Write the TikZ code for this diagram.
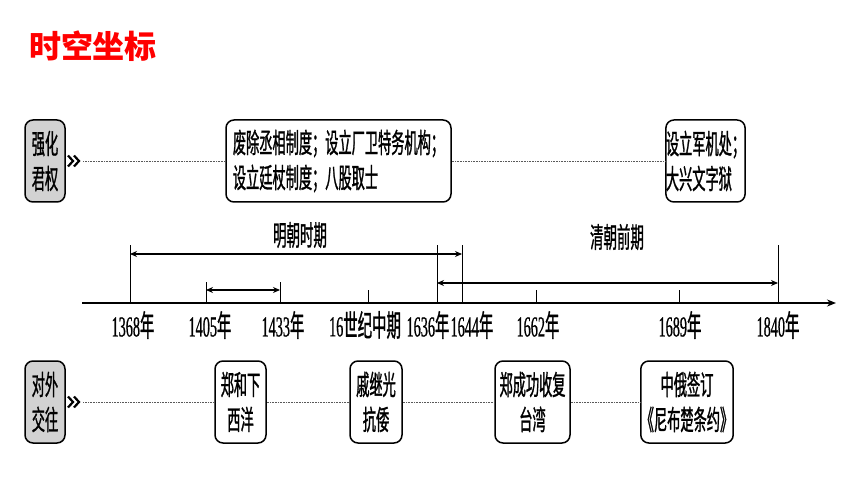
\documentclass[tikz,border=0pt]{standalone}
\usepackage{fontspec}
\usetikzlibrary{arrows.meta,calc}
\newfontfamily\cjkf[FakeStretch=0.48, FakeBold=1.0]{Noto Sans CJK SC}
\newfontfamily\titlef{Noto Sans CJK SC}
\newfontfamily\numf[FakeStretch=0.49, FakeBold=0.6]{Liberation Serif}
\newcommand\yr[1]{{\numf\fontsize{29}{29}\selectfont #1}}
\tikzset{
  box/.style={draw, line width=1.5pt, rounded corners=8pt, minimum height=82pt,
    inner xsep=0pt, inner ysep=0pt, font=\cjkf\fontsize{27.5}{35}\selectfont, align=center},
  side/.style={box, fill=gray!35, minimum width=40pt},
  chev/.style={minimum width=12pt, minimum height=11pt, inner sep=0pt},
  chevl/.style={line width=2.2pt, line join=miter},
  dotl/.style={line width=0.8pt, dash pattern=on 0.8pt off 0.8pt, gray!70!black},
  axisl/.style={line width=1.6pt, -{Stealth[length=9pt,width=7pt]}},
  tickl/.style={line width=0.8pt},
  dbl/.style={line width=1.4pt, {Stealth[length=7pt,width=6pt]}-{Stealth[length=7pt,width=6pt]}},
  yearlab/.style={font=\cjkf\fontsize{30}{30}\selectfont, inner sep=0pt},
  perlab/.style={font=\cjkf\fontsize{28}{28}\selectfont, inner sep=0pt}
}
\begin{document}
\begin{tikzpicture}[x=1pt,y=-1pt]
\useasboundingbox[fill=white] (0,0) rectangle (860,484);
% title
\node[text=red, font=\titlef\bfseries\fontsize{32}{32}\selectfont] (title) at (93,46) {时空坐标};
% top row
\node[side] (qj) at (45,161) {强化\\君权};
\node[chev] (c1) at (74,161) {};
\node[box, minimum width=225pt, align=left] (b1) at (338.5,161) {废除丞相制度；设立厂卫特务机构；\\设立廷杖制度；八股取士};
\node[box, minimum width=79pt, align=left] (b2) at (705.5,161) {设立军机处；\\大兴文字狱};
% bottom row
\node[side] (dw) at (45,402) {对外\\交往};
\node[chev] (c2) at (74,402) {};
\node[box, minimum width=51pt] (z1) at (240.5,402) {郑和下\\西洋};
\node[box, minimum width=52pt] (z2) at (376,402) {戚继光\\抗倭};
\node[box, minimum width=75pt] (z3) at (532.5,402) {郑成功收复\\台湾};
\node[box, minimum width=92pt] (z4) at (687,402) {中俄签订\\《尼布楚条约》};
% chevrons
\foreach \c in {c1,c2}{
  \draw[chevl] ([xshift=-6pt,yshift=5.5pt]\c.center) -- ([xshift=-1pt]\c.center) -- ([xshift=-6pt,yshift=-5.5pt]\c.center);
  \draw[chevl] ([xshift=0pt,yshift=5.5pt]\c.center) -- ([xshift=5pt]\c.center) -- ([xshift=0pt,yshift=-5.5pt]\c.center);
}
% dotted connectors
\draw[dotl, shorten <=3pt] (c1.east) -- (b1.west);
\draw[dotl] (b1.east) -- (b2.west);
\draw[dotl, shorten <=3pt] (c2.east) -- (z1.west);
\draw[dotl] (z1.east) -- (z2.west);
\draw[dotl] (z2.east) -- (z3.west);
\draw[dotl] (z3.east) -- (z4.west);
% timeline axis
\coordinate (a0) at (82,303);
\coordinate (a1) at (836,303);
\draw[axisl] (a0) -- (a1);
% ticks
\foreach \n/\x/\h in {y1368/130/245, y1405/206/282, y1433/280/282, y16c/368/290, y1636/437/245, y1644/462/245, y1662/536/290, y1689/679/290, y1840/778/245}{
  \coordinate (\n) at (\x,303);
  \coordinate (\n top) at (\x,\h);
  \draw[tickl] (\n) -- (\n top);
}
% period arrows
\draw[dbl] (y1368 |- 0,254) -- (y1644 |- 0,254);
\draw[dbl] (y1636 |- 0,283) -- (y1840 |- 0,283);
\draw[dbl] (y1405 |- 0,290) -- (y1433 |- 0,290);
\node[perlab] (ming) at (300,235) {明朝时期};
\node[perlab] (qing) at (617,237) {清朝前期};
% year labels
\node[yearlab] (l1368) at (133,325) {\yr{1368}年};
\node[yearlab] (l1405) at (210,325) {\yr{1405}年};
\node[yearlab] (l1433) at (283,325) {\yr{1433}年};
\node[yearlab] (l16c) at (365,325) {\yr{16}世纪中期};
\node[yearlab] (l1636) at (428,325) {\yr{1636}年};
\node[yearlab] (l1644) at (472,325) {\yr{1644}年};
\node[yearlab] (l1662) at (538,325) {\yr{1662}年};
\node[yearlab] (l1689) at (680,325) {\yr{1689}年};
\node[yearlab] (l1840) at (778,325) {\yr{1840}年};
\end{tikzpicture}
\end{document}
